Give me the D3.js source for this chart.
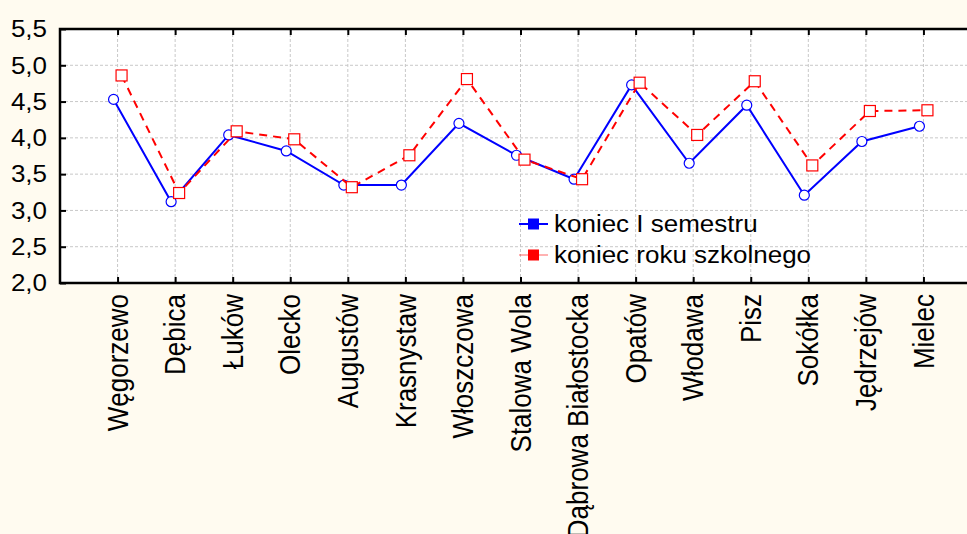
<!DOCTYPE html>
<meta charset="utf-8">
<style>
body { margin: 0; background: #fffbf0; }
svg { display: block; font-family: 'Liberation Sans', Arial, sans-serif; }
.grid line { stroke: #c8c8c8; stroke-dasharray: 3,2; stroke-width: 1; }
</style>
<body>
<div id="chart"></div>
<script src="https://cdnjs.cloudflare.com/ajax/libs/d3/7.8.5/d3.min.js"></script>
<script>
var towns = ['Węgorzewo', 'Dębica', 'Łuków', 'Olecko', 'Augustów', 'Krasnystaw',
  'Włoszczowa', 'Stalowa Wola', 'Dąbrowa Białostocka', 'Opatów', 'Włodawa',
  'Pisz', 'Sokółka', 'Jędrzejów', 'Mielec'];
var semestr = [4.53, 3.12, 4.04, 3.82, 3.35, 3.35, 4.20, 3.76, 3.43, 4.73, 3.65, 4.45, 3.21, 3.95, 4.16];
var rok = [4.86, 3.24, 4.09, 3.98, 3.32, 3.76, 4.81, 3.70, 3.43, 4.76, 4.04, 4.78, 3.62, 4.37, 4.38];
var yTicks = [2.0, 2.5, 3.0, 3.5, 4.0, 4.5, 5.0, 5.5];
var seriesNames = ['koniec I semestru', 'koniec roku szkolnego'];

var width = 967, height = 534;
var pLeft = 60, pTop = 29, pBottom = 283, pRight = 981;
var sx = 1.13; // text looks horizontally stretched in the original

var svg = d3.select('#chart').append('svg')
  .attr('width', width)
  .attr('height', height);

var x = d3.scalePoint().domain(towns).range([pLeft, pRight]).padding(1);
var y = d3.scaleLinear().domain([2, 5.5]).range([pBottom, pTop]);

svg.append('rect')
  .attr('x', pLeft).attr('y', pTop)
  .attr('width', pRight - pLeft).attr('height', pBottom - pTop)
  .attr('fill', '#fff');

// grid
var grid = svg.append('g').attr('class', 'grid');
grid.selectAll('.h').data(yTicks.slice(1, -1)).enter().append('line')
  .attr('x1', pLeft).attr('x2', pRight)
  .attr('y1', function(d) { return y(d); })
  .attr('y2', function(d) { return y(d); });
grid.selectAll('.v').data(towns).enter().append('line')
  .attr('y1', pTop).attr('y2', pBottom)
  .attr('x1', function(d) { return x(d); })
  .attr('x2', function(d) { return x(d); });

// axes
svg.append('g')
  .attr('transform', 'translate(' + pLeft + ',0)')
  .call(d3.axisRight(y).tickValues(yTicks).tickSize(6).tickFormat(''))
  .call(function(g) { g.select('.domain').remove(); })
  .selectAll('line').attr('stroke', '#000').attr('stroke-width', 2);

svg.append('g')
  .attr('transform', 'translate(0,' + pTop + ')')
  .call(d3.axisBottom(x).tickSize(6).tickFormat(''))
  .call(function(g) { g.select('.domain').remove(); })
  .selectAll('line').attr('stroke', '#000').attr('stroke-width', 2);

svg.append('g')
  .attr('transform', 'translate(0,' + pBottom + ')')
  .call(d3.axisTop(x).tickSize(6).tickFormat(''))
  .call(function(g) { g.select('.domain').remove(); })
  .selectAll('line').attr('stroke', '#000').attr('stroke-width', 2);

svg.append('path')
  .attr('d', 'M' + pRight + ',' + pTop + 'H' + pLeft + 'V' + pBottom + 'H' + pRight)
  .attr('fill', 'none').attr('stroke', '#000').attr('stroke-width', 2.5);

// tick labels
svg.selectAll('.ylab').data(yTicks).enter().append('text')
  .attr('transform', function(d) { return 'translate(47,' + y(d) + ') scale(' + sx + ',1)'; })
  .attr('dy', '0.36em')
  .attr('text-anchor', 'end')
  .attr('font-size', 23)
  .text(function(d) { return d3.format('.1f')(d).replace('.', ','); });

svg.selectAll('.xlab').data(towns).enter().append('text')
  .attr('transform', function(d) { return 'translate(' + x(d) + ',294) scale(' + sx + ',1) rotate(-90)'; })
  .attr('dy', 9)
  .attr('text-anchor', 'end')
  .attr('font-size', 26)
  .text(function(d) { return d; });

// series
var line = d3.line()
  .x(function(d) { return d[0]; })
  .y(function(d) { return d[1]; });

var blue = semestr.map(function(v, i) { return [x(towns[i]) - 4, y(v)]; });
var red = rok.map(function(v, i) { return [x(towns[i]) + 4, y(v)]; });

svg.append('path').datum(blue)
  .attr('d', line)
  .attr('fill', 'none').attr('stroke', '#0000ff').attr('stroke-width', 2);

svg.selectAll('.dot').data(blue).enter().append('circle')
  .attr('cx', function(d) { return d[0]; })
  .attr('cy', function(d) { return d[1]; })
  .attr('r', 5)
  .attr('fill', '#fff').attr('stroke', '#0000ff').attr('stroke-width', 1.2);

svg.append('path').datum(red)
  .attr('d', line)
  .attr('fill', 'none').attr('stroke', '#ff0000').attr('stroke-width', 2)
  .attr('stroke-dasharray', '8,6');

svg.selectAll('.sq').data(red).enter().append('rect')
  .attr('x', function(d) { return d[0] - 5.5; })
  .attr('y', function(d) { return d[1] - 5.5; })
  .attr('width', 11).attr('height', 11)
  .attr('fill', '#fff').attr('stroke', '#ff0000').attr('stroke-width', 1.2);

// legend
var legend = svg.append('g');
var colors = ['#0000ff', '#ff0000'];
seriesNames.forEach(function(name, i) {
  var ly = 224 + i * 31;
  legend.append('line')
    .attr('x1', 519).attr('x2', 548).attr('y1', ly).attr('y2', ly)
    .attr('stroke', colors[i]).attr('stroke-width', i == 0 ? 2 : 1)
    .attr('opacity', i == 0 ? 1 : 0.6);
  legend.append('rect')
    .attr('x', 528).attr('y', ly - 5.5).attr('width', 11).attr('height', 11)
    .attr('fill', colors[i]);
  legend.append('text')
    .attr('transform', 'translate(554,' + (ly + 7.5) + ') scale(' + sx + ',1)')
    .attr('font-size', 23)
    .text(name);
});
</script>
</body>
